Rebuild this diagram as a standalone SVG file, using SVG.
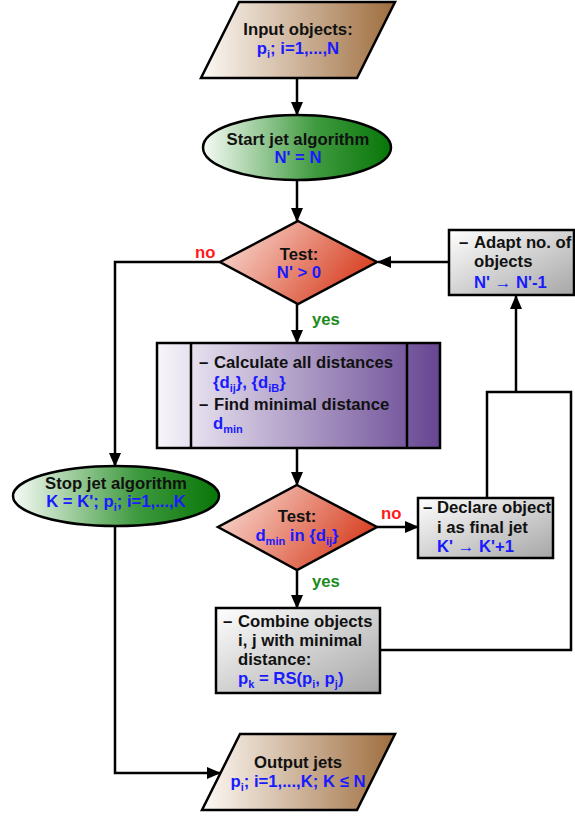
<svg xmlns="http://www.w3.org/2000/svg" width="575" height="816" viewBox="0 0 575 816">
<defs>
<linearGradient id="gBrown" x1="0" y1="0" x2="1" y2="0"><stop offset="0" stop-color="#fdfaf6"/><stop offset="1" stop-color="#9e6d3e"/></linearGradient>
<linearGradient id="gGreen" x1="0" y1="0" x2="1" y2="0"><stop offset="0" stop-color="#f6fbf6"/><stop offset="0.6" stop-color="#3f9a3f"/><stop offset="1" stop-color="#087608"/></linearGradient>
<linearGradient id="gRed" x1="0" y1="0" x2="1" y2="0.4"><stop offset="0" stop-color="#fbe6e0"/><stop offset="1" stop-color="#d9472a"/></linearGradient>
<linearGradient id="gPurple" x1="0" y1="0" x2="1" y2="0"><stop offset="0" stop-color="#f8f6fb"/><stop offset="1" stop-color="#664592"/></linearGradient>
<linearGradient id="gGrey" x1="0" y1="0" x2="1" y2="1"><stop offset="0" stop-color="#ffffff"/><stop offset="1" stop-color="#a6a6a6"/></linearGradient>
<marker id="arr" markerWidth="14" markerHeight="12" refX="13" refY="6" orient="auto" markerUnits="userSpaceOnUse"><path d="M0,0 L14,6 L0,12 Z" fill="#000"/></marker>
<style>
.shape{stroke:#000;stroke-width:2.5}
.t{font-family:"Liberation Sans",Arial,sans-serif;font-weight:bold;font-size:16.7px;fill:#111}
.c{text-anchor:middle}
.b{fill:#1a1aff}
.sub{font-size:11px}
.no{fill:#ff1a1a}
.yes{fill:#1a8a1a}
.con{fill:none;stroke:#000;stroke-width:2.5}
</style>
</defs>
<g id="connectors">
<path class="con" d="M297,78 V115" marker-end="url(#arr)"/>
<path class="con" d="M297,180 V221" marker-end="url(#arr)"/>
<path class="con" d="M297,304 V343" marker-end="url(#arr)"/>
<path class="con" d="M449,262 H378" marker-end="url(#arr)"/>
<path class="con" d="M220,262 H115 V466" marker-end="url(#arr)"/>
<path class="con" d="M297,448 V485" marker-end="url(#arr)"/>
<path class="con" d="M377,527 H418" marker-end="url(#arr)"/>
<path class="con" d="M297,570 V608" marker-end="url(#arr)"/>
<path class="con" d="M380,650 H571 V392 H487 V498"/>
<path class="con" d="M516,392 V296" marker-end="url(#arr)"/>
<path class="con" d="M115,526 V773 H220" marker-end="url(#arr)"/>
<text class="t no" x="195" y="258">no</text>
<text class="t yes" x="312" y="325">yes</text>
<text class="t no" x="381" y="519">no</text>
<text class="t yes" x="312" y="587">yes</text>
</g>
<g id="input">
<polygon class="shape" fill="url(#gBrown)" points="239,2 395,2 357,78 201,78"/>
<text class="t c" x="298" y="35">Input objects:</text>
<text class="t c b" x="298" y="54">p<tspan class="sub" dy="4">i</tspan><tspan dy="-4">; i=1,...,N</tspan></text>
</g>
<g id="start">
<ellipse class="shape" fill="url(#gGreen)" cx="297" cy="147.5" rx="94" ry="32.5"/>
<text class="t c" x="298" y="145">Start jet algorithm</text>
<text class="t c b" x="298" y="163">N' = N</text>
</g>
<g id="test1">
<polygon class="shape" fill="url(#gRed)" points="298,221 377,262 298,304 220,262"/>
<text class="t c" x="299" y="260">Test:</text>
<text class="t c b" x="299" y="278">N' &gt; 0</text>
</g>
<g id="adapt">
<rect class="shape" fill="url(#gGrey)" x="449" y="230" width="125" height="65"/>
<text class="t" x="459" y="248">–</text>
<text class="t" x="474" y="248">Adapt no. of</text>
<text class="t" x="474" y="267">objects</text>
<text class="t b" x="474" y="288">N' → N'-1</text>
</g>
<g id="calc">
<rect class="shape" fill="url(#gPurple)" x="157" y="343" width="283" height="105"/>
<line class="shape" x1="191" y1="343" x2="191" y2="448"/>
<line class="shape" x1="407" y1="343" x2="407" y2="448"/>
<text class="t" x="199" y="368">–</text>
<text class="t" x="214" y="368">Calculate all distances</text>
<text class="t b" x="213" y="388">{d<tspan class="sub" dy="4">ij</tspan><tspan dy="-4">}, {d</tspan><tspan class="sub" dy="4">iB</tspan><tspan dy="-4">}</tspan></text>
<text class="t" x="199" y="410">–</text>
<text class="t" x="214" y="410">Find minimal distance</text>
<text class="t b" x="213" y="429">d<tspan class="sub" dy="4">min</tspan></text>
</g>
<g id="stop">
<ellipse class="shape" fill="url(#gGreen)" cx="116" cy="496" rx="103" ry="30"/>
<text class="t c" x="116" y="489">Stop jet algorithm</text>
<text class="t c b" x="116" y="507">K = K'; p<tspan class="sub" dy="4">i</tspan><tspan dy="-4">; i=1,...,K</tspan></text>
</g>
<g id="test2">
<polygon class="shape" fill="url(#gRed)" points="297,485 377,527 297,570 218,527"/>
<text class="t c" x="297" y="522">Test:</text>
<text class="t c b" x="297" y="541">d<tspan class="sub" dy="4">min</tspan><tspan dy="-4"> in {d</tspan><tspan class="sub" dy="4">ij</tspan><tspan dy="-4">}</tspan></text>
</g>
<g id="declare">
<rect class="shape" fill="url(#gGrey)" x="418" y="498" width="135" height="60"/>
<text class="t" x="423" y="513">–</text>
<text class="t" x="437" y="513">Declare object</text>
<text class="t" x="437" y="533">i as final jet</text>
<text class="t b" x="437" y="552">K' → K'+1</text>
</g>
<g id="combine">
<rect class="shape" fill="url(#gGrey)" x="216" y="608" width="164" height="85"/>
<text class="t" x="223" y="627">–</text>
<text class="t" x="238" y="627">Combine objects</text>
<text class="t" x="238" y="646">i, j with minimal</text>
<text class="t" x="238" y="665">distance:</text>
<text class="t b" x="238" y="684">p<tspan class="sub" dy="4">k</tspan><tspan dy="-4"> = RS(p</tspan><tspan class="sub" dy="4">i</tspan><tspan dy="-4">, p</tspan><tspan class="sub" dy="4">j</tspan><tspan dy="-4">)</tspan></text>
</g>
<g id="output">
<polygon class="shape" fill="url(#gBrown)" points="240,734 395,734 357,810 202,810"/>
<text class="t c" x="298" y="768">Output jets</text>
<text class="t c b" x="298" y="787">p<tspan class="sub" dy="4">i</tspan><tspan dy="-4">; i=1,...,K; K ≤ N</tspan></text>
</g>
</svg>
